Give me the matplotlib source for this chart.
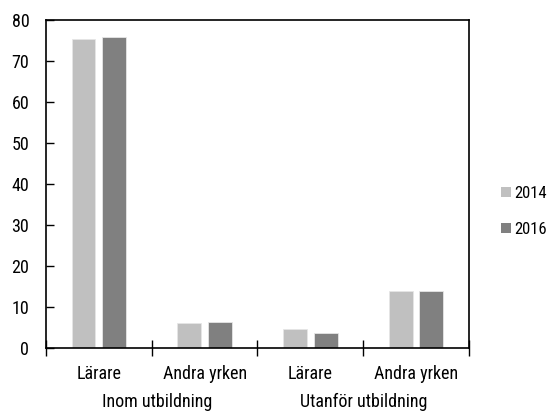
import matplotlib
matplotlib.use("Agg")
import numpy as np
import matplotlib.pyplot as plt
from matplotlib.patches import Patch
from matplotlib.transforms import blended_transform_factory

plt.rcParams['font.family'] = ['Roboto Condensed', 'Liberation Sans Narrow', 'Liberation Sans', 'DejaVu Sans']
plt.rcParams['font.size'] = 13

categories = ["Lärare", "Andra yrken", "Lärare", "Andra yrken"]
groups = ["Inom utbildning", "Utanför utbildning"]
years = ["2014", "2016"]
values_2014 = [75.3, 6.2, 4.6, 14.0]
values_2016 = [76.0, 6.4, 3.6, 13.9]
colors = ["#c0c0c0", "#808080"]

fig = plt.figure(figsize=(5.49, 4.12), dpi=100)
ax = fig.add_axes([0.0838, 0.155, 0.7704, 0.796])

x = np.arange(len(categories))
width = 0.226
offset = 0.145
ax.bar(x - offset, values_2014, width, color=colors[0], edgecolor="#e6e6e6", linewidth=0.6)
ax.bar(x + offset, values_2016, width, color=colors[1], edgecolor="#e6e6e6", linewidth=0.6)

ax.set_xlim(-0.5, len(categories) - 0.5)
ax.set_ylim(0, 80)
ax.set_yticks(range(0, 81, 10))
ax.tick_params(axis="y", direction="in", length=6, width=1, pad=12, colors="black")

# boundaries as major ticks, category names as minor ticks
ax.set_xticks(np.arange(-0.5, len(categories), 1.0))
ax.set_xticklabels([])
ax.tick_params(axis="x", which="major", direction="inout", length=12, width=1)
ax.set_xticks(x, minor=True)
ax.set_xticklabels(categories, minor=True)
ax.tick_params(axis="x", which="minor", length=0, pad=12)

for s in ax.spines.values():
    s.set_linewidth(1.2)

trans = blended_transform_factory(ax.transData, fig.transFigure)
ax.text(0.55, (412 - 402) / 412, groups[0], transform=trans, ha="center", va="center")
ax.text(2.5, (412 - 402) / 412, groups[1], transform=trans, ha="center", va="center")

handles = [Patch(facecolor=c, edgecolor="none") for c in colors]
fig.legend(handles, years, loc="center left", bbox_to_anchor=(0.912, 0.487),
           frameon=False, fontsize=12, handlelength=0.6, handleheight=0.6,
           handletextpad=0.2, labelspacing=1.25, borderaxespad=0, borderpad=0)

fig.savefig("out.png", dpi=100)
